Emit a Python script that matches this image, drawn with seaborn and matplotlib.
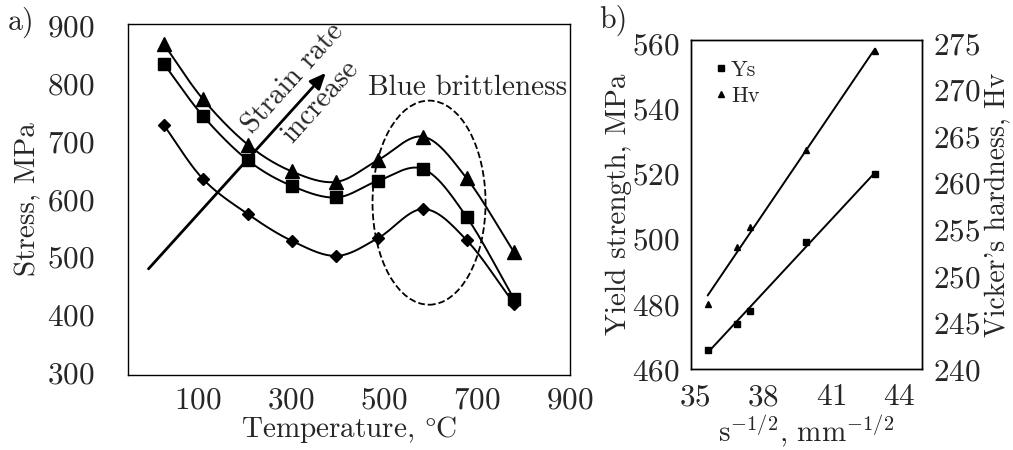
import numpy as np
import pandas as pd
import matplotlib
matplotlib.use("Agg")
import matplotlib.pyplot as plt
import seaborn as sns
from matplotlib.patches import Ellipse

# Panel a) stress vs temperature, three strain rates
temperature = [27, 111, 208, 302, 398, 488, 585, 678, 780]
stress_low = [728, 635, 574, 528, 502, 533, 583, 529, 419]   # diamonds
stress_mid = [834, 744, 667, 623, 603, 632, 652, 569, 427]   # squares
stress_high = [868, 773, 694, 648, 630, 668, 708, 636, 508]  # triangles

# Panel b) Hall-Petch style plot
grain = [35.55, 36.83, 37.42, 39.90, 42.92]
yield_strength = [466, 474, 478, 499, 520]
hardness = [247.0, 253.1, 255.3, 263.5, 274.2]


def smooth(x, y, n=30):
    # Catmull-Rom curve through the points (like a "smoothed line" option)
    x = np.asarray(x, float)
    y = np.asarray(y, float)
    px = np.concatenate([[2 * x[0] - x[1]], x, [2 * x[-1] - x[-2]]])
    py = np.concatenate([[2 * y[0] - y[1]], y, [2 * y[-1] - y[-2]]])
    xs, ys = [], []
    t = np.linspace(0, 1, n)
    for i in range(1, len(px) - 2):
        for p, out in ((px, xs), (py, ys)):
            p0, p1, p2, p3 = p[i - 1], p[i], p[i + 1], p[i + 2]
            out.extend(0.5 * ((2 * p1) + (-p0 + p2) * t
                              + (2 * p0 - 5 * p1 + 4 * p2 - p3) * t ** 2
                              + (-p0 + 3 * p1 - 3 * p2 + p3) * t ** 3))
    return np.array(xs), np.array(ys)


sns.set_theme(style="white")
plt.rcParams["font.family"] = ["cmr10", "DejaVu Serif"]
plt.rcParams["mathtext.fontset"] = "cm"
plt.rcParams["axes.formatter.use_mathtext"] = True
plt.rcParams["axes.unicode_minus"] = False

fs = 21     # labels / annotations
tfs = 22.5  # tick labels
fig = plt.figure(figsize=(10.13, 4.5), dpi=100)
ax1 = fig.add_axes([0.1264, 0.1667, 0.4363, 0.7800])
ax2 = fig.add_axes([0.6818, 0.1793, 0.2286, 0.7318])

# ---- panel a
series = [(stress_low, "D", 6.5), (stress_mid, "s", 8.5), (stress_high, "^", 9.5)]
for vals, mk, ms in series:
    sx, sy = smooth(temperature, vals)
    sns.lineplot(x=sx, y=sy, ax=ax1, color="black", lw=1.4, sort=False, estimator=None)
    ax1.plot(temperature, vals, ls="none", marker=mk, ms=ms, color="black")

ax1.annotate("", xy=(379, 822), xytext=(-10, 476),
             arrowprops=dict(arrowstyle="-|>,head_length=0.8,head_width=0.35",
                             color="black", lw=2))
ax1.text(305, 808, "Strain rate", rotation=48, fontsize=fs, ha="center", va="center",
         rotation_mode="anchor")
ax1.text(363, 769, "increase", rotation=48, fontsize=fs, ha="center", va="center",
         rotation_mode="anchor")
ax1.text(466, 793, "Blue brittleness", fontsize=fs, ha="left", va="center")
ax1.add_patch(Ellipse((597, 594), 243, 353, fill=False, ls="--", lw=1.3, color="black"))

ax1.set_xlim(-50, 900)
ax1.set_ylim(296, 903)
ax1.set_xticks([100, 300, 500, 700, 900])
ax1.set_yticks([300, 400, 500, 600, 700, 800, 900])
ax1.tick_params(length=0, labelsize=tfs)
ax1.tick_params(axis="y", pad=24)
ax1.tick_params(axis="x", pad=8)
ax1.set_xlabel(r"Temperature, $\degree$C", fontsize=fs, labelpad=0)
ax1.set_ylabel("Stress, MPa", fontsize=fs, labelpad=4)

# ---- panel b
ax3 = ax2.twinx()
sns.regplot(x=grain, y=yield_strength, ax=ax2, ci=None, scatter=False,
            line_kws=dict(color="black", lw=1.4))
sns.regplot(x=grain, y=hardness, ax=ax3, ci=None, scatter=False,
            line_kws=dict(color="black", lw=1.4))
ax2.plot(grain, yield_strength, ls="none", marker="s", ms=5, color="black", label="Ys")
ax3.plot(grain, hardness, ls="none", marker="^", ms=5, color="black", label="Hv")

ax2.set_xlim(34.8, 45)
ax2.set_ylim(460, 561)
ax3.set_ylim(240, 240 + 101 * 0.35)
ax2.set_xticks([35, 38, 41, 44])
ax2.set_yticks([460, 480, 500, 520, 540, 560])
ax3.set_yticks([240, 245, 250, 255, 260, 265, 270, 275])
for a in (ax2, ax3):
    a.tick_params(length=0, labelsize=tfs)
    a.grid(False)
ax2.tick_params(axis="y", pad=8)
ax3.tick_params(axis="y", pad=8)
ax2.tick_params(axis="x", pad=10)
ax2.set_xlabel(r"s$^{-1/2}$, mm$^{-1/2}$", fontsize=fs, labelpad=1)
ax2.set_ylabel("Yield strength, MPa", fontsize=fs, labelpad=0)
ax3.set_ylabel("Vicker's hardness, Hv", fontsize=20, labelpad=2)

h1, l1 = ax2.get_legend_handles_labels()
h2, l2 = ax3.get_legend_handles_labels()
ax2.legend(h1 + h2, l1 + l2, loc="upper left", frameon=False, fontsize=16,
           handlelength=0.5, handletextpad=0.2, labelspacing=0.3,
           bbox_to_anchor=(0.02, 1.0))

for a in (ax1, ax2, ax3):
    for sp in a.spines.values():
        sp.set_color("black")
        sp.set_linewidth(1.0)

fig.text(0.008, 0.95, "a)", fontsize=tfs - 1, va="center")
fig.text(0.592, 0.955, "b)", fontsize=tfs - 1, va="center")

fig.savefig("out.png", dpi=100)
